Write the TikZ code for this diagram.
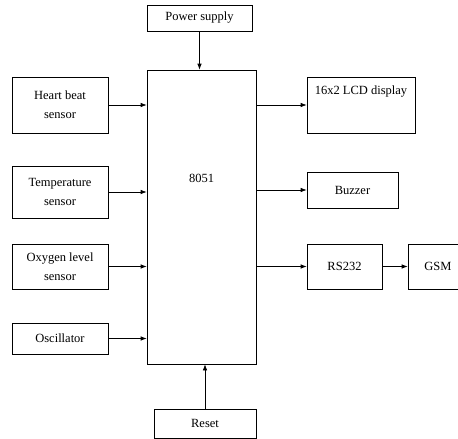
\documentclass[tikz,border=0pt]{standalone}
\usepackage{fontspec}
\setmainfont{Liberation Serif}
\usetikzlibrary{arrows.meta,positioning}

\begin{document}
\begin{tikzpicture}[x=1pt,y=-1pt,
  blk/.style={draw,line width=0.7pt,inner sep=0pt,align=center},
  conn/.style={-{Latex[length=6pt,width=4.5pt]},line width=0.7pt},
  font=\fontsize{12.5}{19}\selectfont]
  \useasboundingbox (0,0) rectangle (458,439);

  % controller
  \node[blk,minimum width=109pt,minimum height=294pt] (mcu) at (201.5,217) {};
  \node (mcutext) at (201.5,178) {8051};
  \node[blk,minimum width=105pt,minimum height=26pt] (pwr) at (199.5,18) {Power supply};
  \node[blk,minimum width=102pt,minimum height=29pt] (rst) at (205,423.5) {Reset};

  % inputs
  \node[blk,minimum width=96pt,minimum height=56pt] (heart) at (60,105) {Heart beat\\sensor};
  \node[blk,minimum width=96pt,minimum height=52pt] (temp) at (60,192) {Temperature\\sensor};
  \node[blk,minimum width=96pt,minimum height=45pt] (oxy) at (60,266.5) {Oxygen level\\sensor};
  \node[blk,minimum width=96pt,minimum height=31pt] (osc) at (60,338.5) {Oscillator};

  % outputs
  \node[blk,minimum width=108pt,minimum height=56pt,
    label={[anchor=north,yshift=-6pt]north:16x2 LCD display}] (lcd) at (361,105) {};
  \node[blk,minimum width=91pt,minimum height=36pt] (buzz) at (352.5,190) {Buzzer};
  \node[blk,minimum width=75pt,minimum height=45pt] (rs) at (344.5,266.5) {RS232};
  \node[blk,minimum width=60pt,minimum height=45pt,text width=52pt] (gsm) at (438,266.5) {GSM};

  % connections
  \draw[conn] (pwr.south) -- (pwr.south |- mcu.north);
  \draw[conn] (rst.north) -- (rst.north |- mcu.south);
  \foreach \n in {heart,temp,oxy,osc}
    \draw[conn] (\n.east) -- (\n.east -| mcu.west);
  \foreach \n in {lcd,buzz,rs}
    \draw[conn] (mcu.east |- \n.west) -- (\n.west);
  \draw[conn] (rs.east) -- (gsm.west);
\end{tikzpicture}
\end{document}
